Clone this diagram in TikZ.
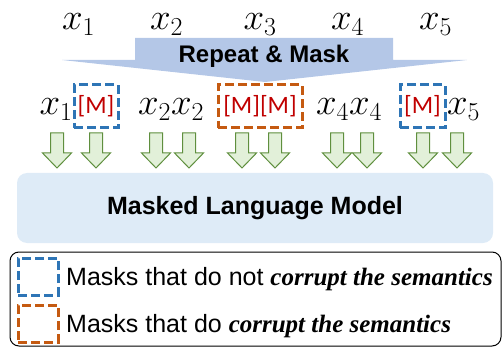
\RequirePackage{fix-cm}
\documentclass[tikz,border=0pt]{standalone}
\usepackage{fontspec}
\setmainfont{Liberation Sans}
\newfontfamily\calib{Carlito}
\newfontfamily\timesfont{Liberation Serif}
\definecolor{mblue}{HTML}{2E75B6}
\definecolor{morange}{HTML}{C55A11}
\definecolor{mred}{HTML}{C00000}
\definecolor{arrblue}{HTML}{B4C7E7}
\definecolor{mlmfill}{HTML}{DEEBF7}
\definecolor{gfill}{HTML}{E2F0D9}
\definecolor{gline}{HTML}{5F8F3E}
\begin{document}
\begin{tikzpicture}[x=1pt,y=-1pt,
  xtok/.style={font=\fontsize{37}{41}\selectfont, anchor=base, inner sep=0pt},
  maskbox/.style={draw=#1, line width=3pt, dash pattern=on 9pt off 4pt,
    inner sep=0pt, minimum height=43pt, font=\calib\fontsize{25}{29}\selectfont, text=mred},
  legsq/.style={draw=#1, line width=3pt, dash pattern=on 9pt off 4pt,
    inner sep=0pt, minimum width=40pt, minimum height=37pt},
  legtext/.style={anchor=base west, inner sep=0pt, font=\fontsize{25}{30}\selectfont},
  bigtext/.style={font=\bfseries\fontsize{24}{28}\selectfont, inner sep=0pt},
  downarr/.pic={\draw[fill=gfill, draw=gline, line width=1pt, line join=miter]
     (-6.5,0) -- (6.5,0) -- (6.5,20) -- (14.5,20) -- (0,35) -- (-14.5,20) -- (-6.5,20) -- cycle;}
]
\useasboundingbox (0,0) rectangle (502,347);

% top row
\node[xtok] (t1) at (78.5,29.5) {$x_1$};
\node[xtok] (t2) at (166.5,29.5) {$x_2$};
\node[xtok] (t3) at (260,29.5) {$x_3$};
\node[xtok] (t4) at (347.5,29.5) {$x_4$};
\node[xtok] (t5) at (435.5,29.5) {$x_5$};

% repeat & mask arrow
\fill[arrblue] (135,38) -- (393,38) -- (393,60) -- (467,60) -- (265,82) -- (62,60) -- (135,60) -- cycle;
\node[bigtext, anchor=base] (rm) at (264,63) {Repeat \& Mask};

% second row
\node[xtok] (s1) at (56,115) {$x_1$};
\node[maskbox=mblue, minimum width=44pt] (b1) at (96,106.5) {[M]};
\node[xtok] (s2) at (171,115) {$x_2x_2$};
\node[maskbox=morange, minimum width=84pt] (b2) at (260,106.5) {[M][M]};
\node[xtok] (s4) at (349,115) {$x_4x_4$};
\node[maskbox=mblue, minimum width=45pt] (b3) at (422.5,106.5) {[M]};
\node[xtok] (s5) at (463.5,115) {$x_5$};

% green arrows
\foreach \cx in {57,96,156,189,242,275,337,367,423,457}
  \pic at (\cx,133) {downarr};

% MLM box
\node[fill=mlmfill, rounded corners=10pt, minimum width=476pt, minimum height=70pt,
  bigtext, font=\bfseries\fontsize{25}{30}\selectfont] (mlm) at (255,208) {Masked Language Model};

% legend
\node[draw=black, line width=1pt, rounded corners=9pt, minimum width=491pt,
  minimum height=94pt, inner sep=0pt] (legend) at (255.5,299) {};
\node[legsq=mblue] (lq1) at (38,276.5) {};
\node[legsq=morange] (lq2) at (38,323.5) {};
\node[legtext] (lt1) at (66,285) {Masks that do not {\timesfont\bfseries\itshape corrupt the semantics}};
\node[legtext] (lt2) at (66,332) {Masks that do {\timesfont\bfseries\itshape corrupt the semantics}};
\end{tikzpicture}
\end{document}
